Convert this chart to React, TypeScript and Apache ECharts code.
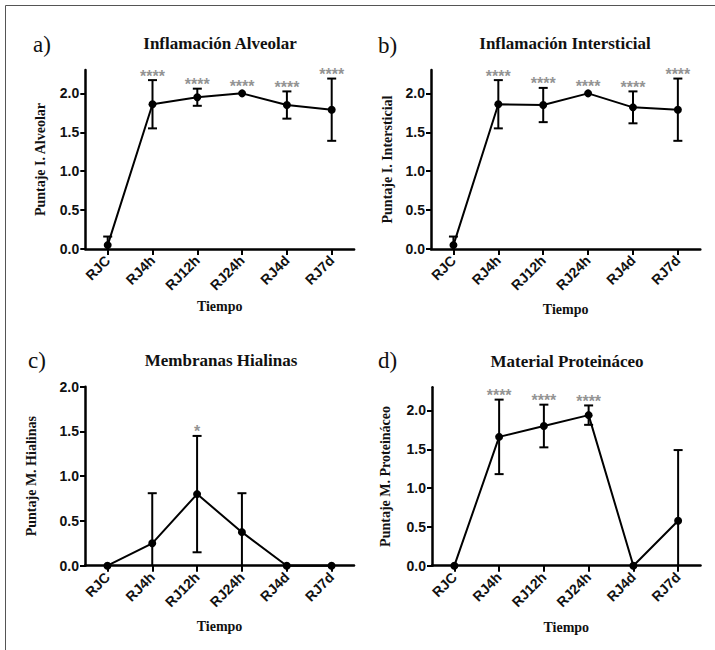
import React, { useEffect, useRef } from "react";
import * as echarts from "echarts";

// ---------- data ----------
const categories = ["RJC", "RJ4h", "RJ12h", "RJ24h", "RJ4d", "RJ7d"];
const yTicks = [0, 0.5, 1, 1.5, 2];

const alveolarMean = [0.05, 1.86, 1.95, 2.0, 1.85, 1.79];
const alveolarErr = [0.11, 0.31, 0.11, 0, 0.175, 0.4];
const alveolarSig = ["", "****", "****", "****", "****", "****"];

const intersticialMean = [0.05, 1.86, 1.85, 2.0, 1.82, 1.79];
const intersticialErr = [0.11, 0.31, 0.22, 0, 0.205, 0.4];
const intersticialSig = ["", "****", "****", "****", "****", "****"];

const hialinasMean = [0, 0.25, 0.8, 0.375, 0, 0];
const hialinasErr = [0, 0.56, 0.65, 0.435, 0, 0];
const hialinasSig = ["", "", "*", "", "", ""];

const proteinaceoMean = [0, 1.66, 1.8, 1.94, 0, 0.58];
const proteinaceoErr = [0, 0.48, 0.275, 0.125, 0, 0.91];
const proteinaceoSig = ["", "****", "****", "****", "", ""];

// ---------- layout / styles ----------
const SERIF = "'Liberation Serif', 'Times New Roman', serif";
const SANS = "'Liberation Sans', Arial, sans-serif";

const panels = [
  {
    letter: "a)", title: "Inflamación Alveolar", yName: "Puntaje I. Alveolar",
    mean: alveolarMean, err: alveolarErr, sig: alveolarSig, yMax: 2.3,
    grid: { left: 85.3, top: 70, width: 268.8, height: 179 },
    letterPos: [33, 44], titlePos: [220, 43], yGap: 38, xGap: 50,
  },
  {
    letter: "b)", title: "Inflamación Intersticial", yName: "Puntaje I. Intersticial",
    mean: intersticialMean, err: intersticialErr, sig: intersticialSig, yMax: 2.3,
    grid: { left: 431, top: 70, width: 269.3, height: 179 },
    letterPos: [378, 45], titlePos: [565, 43], yGap: 36.5, xGap: 53,
  },
  {
    letter: "c)", title: "Membranas Hialinas", yName: "Puntaje M. Hialinas",
    mean: hialinasMean, err: hialinasErr, sig: hialinasSig, yMax: 2.0,
    grid: { left: 85, top: 386.7, width: 269, height: 179 },
    letterPos: [28, 360], titlePos: [221, 360], yGap: 47, xGap: 54,
  },
  {
    letter: "d)", title: "Material Proteináceo", yName: "Puntaje M. Proteináceo",
    mean: proteinaceoMean, err: proteinaceoErr, sig: proteinaceoSig, yMax: 2.3,
    grid: { left: 432, top: 387.2, width: 268.5, height: 178.5 },
    letterPos: [378, 360], titlePos: [567, 361], yGap: 39.5, xGap: 55,
  },
];

function buildOption() {
  const graphic: any[] = [
    {
      type: "rect",
      silent: true,
      shape: { x: 5.5, y: 5.5, width: 730, height: 670 },
      style: { fill: "none", stroke: "#555", lineWidth: 1 },
    },
  ];
  panels.forEach((p) => {
    graphic.push({
      type: "text", silent: true, x: p.letterPos[0], y: p.letterPos[1],
      style: { text: p.letter, font: `23px ${SERIF}`, fill: "#111", align: "left", verticalAlign: "middle" },
    });
    graphic.push({
      type: "text", silent: true, x: p.titlePos[0], y: p.titlePos[1],
      style: { text: p.title, font: `bold 17px ${SERIF}`, fill: "#111", align: "center", verticalAlign: "middle" },
    });
  });

  const grid = panels.map((p) => ({ ...p.grid, containLabel: false, outerBoundsMode: "none" }));

  const xAxis = panels.map((p, i) => ({
    type: "category",
    gridIndex: i,
    data: categories,
    boundaryGap: true,
    name: "Tiempo",
    nameLocation: "middle",
    nameGap: p.xGap,
    nameMoveOverlap: false,
    nameTextStyle: { fontFamily: SERIF, fontWeight: "bold", fontSize: 14, color: "#111" },
    axisLine: { show: true, lineStyle: { color: "#000", width: 2.5 } },
    axisTick: { show: true, alignWithLabel: true, length: 6, lineStyle: { color: "#000", width: 2 } },
    axisLabel: {
      rotate: 45, margin: 9, interval: 0,
      fontFamily: SANS, fontWeight: "bold", fontSize: 14, color: "#111",
    },
    splitLine: { show: false },
  }));

  const yAxis = panels.map((p, i) => ({
    type: "value",
    gridIndex: i,
    min: 0,
    max: p.yMax,
    interval: 0.5,
    name: p.yName,
    nameLocation: "middle",
    nameGap: p.yGap,
    nameMoveOverlap: false,
    nameTextStyle: { fontFamily: SERIF, fontWeight: "bold", fontSize: 14, color: "#111" },
    axisLine: { show: true, lineStyle: { color: "#000", width: 2.5 } },
    axisTick: { show: true, length: 5, lineStyle: { color: "#000", width: 2 }, customValues: yTicks },
    axisLabel: {
      margin: 6, fontFamily: SANS, fontWeight: "bold", fontSize: 14, color: "#111",
      customValues: yTicks,
      formatter: (v: number) => v.toFixed(1),
    },
    splitLine: { show: false },
  }));

  const series: any[] = [];
  panels.forEach((p, i) => {
    // error bars
    series.push({
      type: "custom",
      xAxisIndex: i,
      yAxisIndex: i,
      silent: true,
      z: 2,
      encode: { x: 0, y: 1 },
      data: p.mean.map((m, k) => [k, m, p.err[k]]),
      renderItem: (params: any, api: any) => {
        const x = api.value(0);
        const m = api.value(1);
        const e = api.value(2);
        if (!e) return { type: "group", children: [] };
        const hi = m + e;
        const loRaw = m - e;
        const lo = Math.max(loRaw, 0);
        const pHi = api.coord([x, hi]);
        const pLo = api.coord([x, lo]);
        const half = 4.5;
        const st = { stroke: "#000", lineWidth: 2 };
        const children: any[] = [
          { type: "line", shape: { x1: pHi[0], y1: pHi[1], x2: pLo[0], y2: pLo[1] }, style: st },
          { type: "line", shape: { x1: pHi[0] - half, y1: pHi[1], x2: pHi[0] + half, y2: pHi[1] }, style: st },
        ];
        if (loRaw >= 0) {
          children.push({ type: "line", shape: { x1: pLo[0] - half, y1: pLo[1], x2: pLo[0] + half, y2: pLo[1] }, style: st });
        }
        return { type: "group", children };
      },
    });
    // mean line
    series.push({
      type: "line",
      xAxisIndex: i,
      yAxisIndex: i,
      data: p.mean,
      clip: false,
      z: 3,
      symbol: "circle",
      symbolSize: 8,
      lineStyle: { color: "#000", width: 2 },
      itemStyle: { color: "#000" },
      silent: true,
    });
    // significance stars
    series.push({
      type: "scatter",
      xAxisIndex: i,
      yAxisIndex: i,
      silent: true,
      z: 4,
      symbolSize: 0,
      clip: false,
      data: p.mean.map((m, k) => ({
        value: [k, m + p.err[k]],
        label: { offset: p.err[k] ? [0, 4] : [0, 1] },
      })),
      label: {
        show: true,
        position: "top",
        distance: 0,
        formatter: (q: any) => p.sig[q.dataIndex],
        fontFamily: SANS,
        fontWeight: "bold",
        fontSize: 16,
        color: "#777",
      },
    });
  });

  return { animation: false, backgroundColor: "#fff", graphic, grid, xAxis, yAxis, series };
}

export default function App() {
  const ref = useRef<HTMLDivElement>(null);
  useEffect(() => {
    if (!ref.current) return;
    const chart = echarts.init(ref.current, undefined, { renderer: "svg" });
    chart.setOption(buildOption() as any);
    return () => chart.dispose();
  }, []);
  return (
    <div
      ref={ref}
      style={{ position: "fixed", left: 0, top: 0, width: 715, height: 650, background: "#fff" }}
    />
  );
}
